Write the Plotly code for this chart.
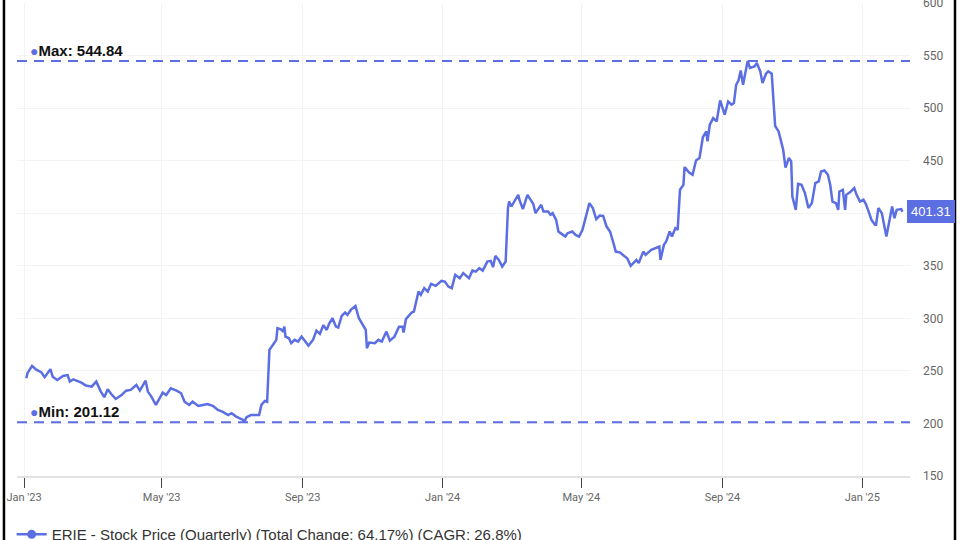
import plotly.graph_objects as go

# ---- data ----
dates = [
    "2023-01-03", "2023-01-04", "2023-01-08", "2023-01-12", "2023-01-16", "2023-01-19",
    "2023-01-24", "2023-01-26", "2023-01-30", "2023-02-04", "2023-02-08", "2023-02-10",
    "2023-02-13", "2023-02-16", "2023-02-20", "2023-02-24", "2023-03-01", "2023-03-05",
    "2023-03-09", "2023-03-12", "2023-03-15", "2023-03-18", "2023-03-22", "2023-03-27",
    "2023-03-31", "2023-04-04", "2023-04-09", "2023-04-12", "2023-04-17", "2023-04-19",
    "2023-04-22", "2023-04-26", "2023-04-29", "2023-05-02", "2023-05-05", "2023-05-09",
    "2023-05-14", "2023-05-18", "2023-05-21", "2023-05-25", "2023-05-28", "2023-06-02",
    "2023-06-06", "2023-06-10", "2023-06-15", "2023-06-19", "2023-06-23", "2023-06-28",
    "2023-07-01", "2023-07-05", "2023-07-11", "2023-07-12", "2023-07-14", "2023-07-18",
    "2023-07-22", "2023-07-25", "2023-07-27", "2023-07-30", "2023-08-01", "2023-08-02",
    "2023-08-03", "2023-08-06", "2023-08-09", "2023-08-10", "2023-08-13", "2023-08-15",
    "2023-08-16", "2023-08-17", "2023-08-20", "2023-08-22", "2023-08-25", "2023-08-28",
    "2023-08-31", "2023-09-03", "2023-09-06", "2023-09-10", "2023-09-13", "2023-09-16",
    "2023-09-19", "2023-09-22", "2023-09-24", "2023-09-27", "2023-09-30", "2023-10-02",
    "2023-10-05", "2023-10-08", "2023-10-10", "2023-10-13", "2023-10-17", "2023-10-20",
    "2023-10-23", "2023-10-26", "2023-10-27", "2023-10-29", "2023-11-03", "2023-11-06",
    "2023-11-09", "2023-11-13", "2023-11-16", "2023-11-20", "2023-11-24", "2023-11-27",
    "2023-11-28", "2023-11-30", "2023-12-05", "2023-12-07", "2023-12-11", "2023-12-13",
    "2023-12-16", "2023-12-19", "2023-12-22", "2023-12-26", "2023-12-31", "2024-01-03",
    "2024-01-06", "2024-01-09", "2024-01-12", "2024-01-16", "2024-01-19", "2024-01-22",
    "2024-01-24", "2024-01-27", "2024-01-30", "2024-02-02", "2024-02-05", "2024-02-09",
    "2024-02-12", "2024-02-14", "2024-02-16", "2024-02-19", "2024-02-22", "2024-02-25",
    "2024-02-27", "2024-02-28", "2024-03-01", "2024-03-03", "2024-03-05", "2024-03-07",
    "2024-03-08", "2024-03-11", "2024-03-15", "2024-03-18", "2024-03-20", "2024-03-22",
    "2024-03-27", "2024-03-29", "2024-04-02", "2024-04-04", "2024-04-06", "2024-04-09",
    "2024-04-11", "2024-04-15", "2024-04-17", "2024-04-19", "2024-04-23", "2024-04-26",
    "2024-04-29", "2024-05-02", "2024-05-05", "2024-05-08", "2024-05-11", "2024-05-14",
    "2024-05-17", "2024-05-20", "2024-05-23", "2024-05-26", "2024-05-29", "2024-05-31",
    "2024-06-04", "2024-06-06", "2024-06-10", "2024-06-13", "2024-06-18", "2024-06-20",
    "2024-06-24", "2024-06-26", "2024-07-01", "2024-07-05", "2024-07-08", "2024-07-09",
    "2024-07-12", "2024-07-14", "2024-07-17", "2024-07-19", "2024-07-22", "2024-07-24",
    "2024-07-26", "2024-07-29", "2024-07-30", "2024-08-03", "2024-08-06", "2024-08-09",
    "2024-08-12", "2024-08-15", "2024-08-18", "2024-08-19", "2024-08-21", "2024-08-24",
    "2024-08-27", "2024-08-30", "2024-09-03", "2024-09-06", "2024-09-09", "2024-09-11",
    "2024-09-13", "2024-09-15", "2024-09-17", "2024-09-19", "2024-09-23", "2024-09-25",
    "2024-09-29", "2024-10-01", "2024-10-04", "2024-10-06", "2024-10-09", "2024-10-11",
    "2024-10-14", "2024-10-17", "2024-10-20", "2024-10-24", "2024-10-26", "2024-10-29",
    "2024-10-31", "2024-11-01", "2024-11-04", "2024-11-06", "2024-11-09", "2024-11-12",
    "2024-11-15", "2024-11-18", "2024-11-21", "2024-11-24", "2024-11-26", "2024-11-29",
    "2024-12-02", "2024-12-04", "2024-12-06", "2024-12-09", "2024-12-11", "2024-12-12",
    "2024-12-15", "2024-12-17", "2024-12-18", "2024-12-22", "2024-12-25", "2024-12-27",
    "2024-12-30", "2025-01-02", "2025-01-04", "2025-01-06", "2025-01-09", "2025-01-12",
    "2025-01-13", "2025-01-15", "2025-01-18", "2025-01-22", "2025-01-25", "2025-01-27",
    "2025-01-29", "2025-01-31", "2025-02-04", "2025-02-05",
]
prices = [
    243.0, 247.8, 254.7, 251.0, 248.7, 244.0,
    251.6, 244.5, 241.4, 245.2, 246.0, 239.8,
    242.0, 240.7, 238.8, 236.0, 235.0, 239.8,
    230.3, 225.0, 232.5, 228.0, 223.3, 227.0,
    231.2, 231.9, 236.6, 231.2, 240.7, 230.3,
    225.5, 217.6, 224.0, 229.3, 227.0, 233.5,
    231.2, 228.7, 220.7, 217.6, 220.7, 216.6,
    217.6, 218.5, 216.6, 212.8, 211.2, 208.0,
    209.7, 206.5, 203.3, 201.12, 205.9, 208.0,
    208.0, 208.0, 217.6, 221.4, 220.7, 251.0,
    270.0, 274.7, 279.5, 290.6, 289.6, 287.4,
    292.1, 282.6, 281.0, 276.3, 279.5, 277.9,
    282.6, 278.5, 274.0, 279.5, 288.3, 285.2,
    293.5, 289.0, 294.7, 300.1, 292.1, 291.2,
    302.3, 305.5, 303.3, 308.0, 311.8, 300.1,
    293.8, 289.0, 271.6, 276.9, 276.3, 279.5,
    277.9, 287.4, 278.8, 282.6, 292.1, 292.1,
    286.4, 299.2, 305.5, 306.4, 325.5, 322.3,
    328.7, 325.5, 332.8, 330.9, 335.6, 335.0,
    330.2, 328.7, 341.4, 338.2, 343.0, 339.7,
    338.2, 345.4, 344.5, 347.7, 345.4, 354.0,
    354.7, 348.7, 359.4, 355.6, 349.3, 354.0,
    404.9, 411.1, 406.4, 410.2, 413.4, 417.5,
    412.8, 403.9, 417.5, 412.8, 409.0, 400.1,
    408.0, 401.6, 401.6, 398.5, 400.1, 393.7,
    382.6, 379.4, 377.8, 381.0, 382.6, 379.4,
    377.8, 384.2, 398.5, 409.6, 404.9, 394.4,
    397.8, 397.5, 387.3, 382.6, 371.5, 363.5,
    362.6, 360.4, 357.2, 349.9, 355.6, 352.5,
    363.5, 360.4, 365.2, 366.8, 368.3, 355.6,
    369.9, 373.1, 382.6, 377.8, 385.8, 384.2,
    422.3, 427.0, 443.9, 438.8, 436.6, 450.2,
    452.5, 472.5, 477.8, 468.3, 484.2, 490.5,
    487.3, 507.3, 493.7, 506.3, 503.2, 504.8,
    522.2, 526.3, 535.8, 522.2, 544.84, 538.2,
    539.7, 542.9, 535.0, 523.9, 532.7, 535.0,
    532.7, 483.0, 477.8, 460.4, 443.5, 452.5,
    449.2, 415.9, 403.2, 428.0, 427.0, 419.1,
    404.9, 409.6, 428.6, 430.2, 439.7, 440.7,
    436.6, 427.0, 411.1, 409.6, 403.2, 420.7,
    422.3, 403.2, 417.5, 420.7, 423.9, 417.5,
    411.1, 412.8, 409.0, 403.2, 393.7, 389.0,
    389.0, 404.9, 400.1, 377.8, 393.7, 406.4,
    395.3, 403.2, 403.9, 401.31,
]
series_name = "ERIE - Stock Price (Quarterly) (Total Change: 64.17%) (CAGR: 26.8%)"
max_value = 544.84
min_value = 201.12
last_value = 401.31
tick_dates = ["2023-01-01", "2023-05-01", "2023-09-01", "2024-01-01",
              "2024-05-01", "2024-09-01", "2025-01-01"]
tick_labels = ["Jan '23", "May '23", "Sep '23", "Jan '24", "May '24", "Sep '24", "Jan '25"]
y_ticks = [150, 200, 250, 300, 350, 400, 450, 500, 550, 600]
# the 400 label is hidden behind the last-value badge in the reference
y_tick_labels = ["150", "200", "250", "300", "350", "", "450", "500", "550", "600"]

BLUE = "#5b6ee2"

fig = go.Figure()
fig.add_trace(go.Scatter(
    x=dates, y=prices, mode="lines",
    line=dict(color=BLUE, width=2.5),
    showlegend=False, hoverinfo="x+y",
))
# legend entry (line with a dot)
fig.add_trace(go.Scatter(
    x=[None], y=[None], mode="lines+markers", name=series_name,
    line=dict(color=BLUE, width=2.5), marker=dict(color=BLUE, size=9),
    showlegend=True,
))

for v in (max_value, min_value):
    fig.add_hline(y=v, line=dict(color=BLUE, width=2, dash="10px,7px"))

for label, v in (("Max", max_value), ("Min", min_value)):
    fig.add_annotation(
        xref="paper", yref="y", x=0.012, y=v, xanchor="left", yanchor="bottom",
        yshift=0, showarrow=False,
        text=f"<span style='color:{BLUE};font-size:14px'>●</span><b>{label}: {v:.2f}</b>",
        font=dict(family="Liberation Sans, Arial, sans-serif", size=15, color="#111"),
    )
fig.add_annotation(
    xref="paper", yref="y", x=0.9966, y=last_value, xanchor="left", yanchor="middle",
    showarrow=False, text=f"{last_value:.2f}",
    font=dict(family="Liberation Sans, Arial, sans-serif", size=13, color="white"),
    bgcolor=BLUE, bordercolor=BLUE, borderpad=3,
)

# frame lines at the left and right edges
for xp in (-0.0146, 1.0504):
    fig.add_shape(type="line", xref="paper", yref="paper", x0=xp, x1=xp, y0=-0.2, y1=1.1,
                  line=dict(color="black", width=2.5))

fig.update_layout(
    width=960, height=540,
    margin=dict(l=17, r=50, t=3, b=64, autoexpand=False),
    paper_bgcolor="white", plot_bgcolor="white",
    font=dict(family="Roboto, sans-serif", color="#666"),
    showlegend=True,
    legend=dict(orientation="h", x=-0.006, y=-0.089, xanchor="left", yanchor="top",
                font=dict(family="Liberation Sans, Arial, sans-serif", size=15, color="#333"),
                bgcolor="rgba(0,0,0,0)"),
    xaxis=dict(
        type="date", range=["2022-12-25 21:00", "2025-02-11 14:00"],
        tickvals=tick_dates, ticktext=tick_labels,
        ticks="outside", ticklen=10, tickcolor="#444", tickwidth=1,
        tickfont=dict(family="Roboto, sans-serif", size=11, color="#666"),
        showgrid=True, gridcolor="#f3f3f3", gridwidth=1,
        showline=True, linecolor="#e3e3e3", linewidth=2,
        zeroline=False, automargin=False,
    ),
    yaxis=dict(
        side="right", range=[150, 600], tickvals=y_ticks, ticktext=y_tick_labels,
        tickfont=dict(family="Roboto, sans-serif", size=12, color="#666"),
        showgrid=True, gridcolor="#f3f3f3", gridwidth=1,
        zeroline=False, showline=False, ticks="", ticklabelstandoff=12,
        ticklabeloverflow="allow", automargin=False,
    ),
)

fig.write_html("out.html", config={"displayModeBar": False},
               post_script="document.body.style.margin='0';")
